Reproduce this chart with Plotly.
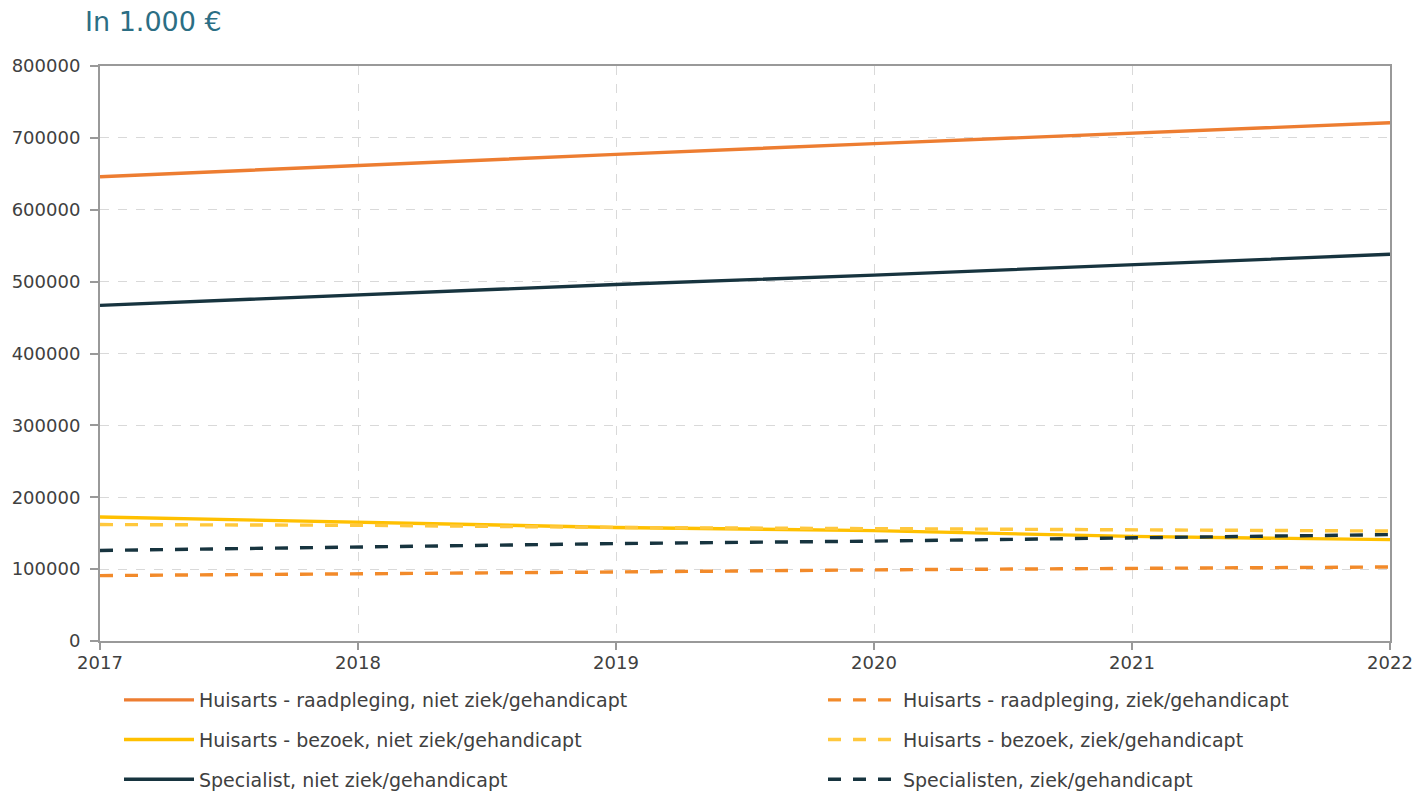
import plotly.graph_objects as go

years = [2017, 2018, 2019, 2020, 2021, 2022]

huisarts_raad_niet = [646000, 662000, 677000, 692000, 706000, 721000]
huisarts_raad_ziek = [91000, 93000, 96000, 99000, 101000, 103000]
huisarts_bez_niet = [172500, 165000, 158000, 153500, 145500, 141000]
huisarts_bez_ziek = [162000, 161000, 158000, 156000, 154000, 153000]
spec_niet = [467000, 482000, 496000, 509000, 523000, 538000]
spec_ziek = [126000, 131000, 135500, 139000, 143500, 148000]

names = [
    "Huisarts - raadpleging, niet ziek/gehandicapt",
    "Huisarts - raadpleging, ziek/gehandicapt",
    "Huisarts - bezoek, niet ziek/gehandicapt",
    "Huisarts - bezoek, ziek/gehandicapt",
    "Specialist, niet ziek/gehandicapt",
    "Specialisten, ziek/gehandicapt",
]

ORANGE = "#ED7D31"
ORANGE_D = "#F28A2A"
YELLOW = "#FFC000"
YELLOW_D = "#FFC83D"
DARK = "#17343F"

series = [
    (names[0], huisarts_raad_niet, ORANGE, "solid", "legend"),
    (names[2], huisarts_bez_niet, YELLOW, "solid", "legend"),
    (names[4], spec_niet, DARK, "solid", "legend"),
    (names[1], huisarts_raad_ziek, ORANGE_D, "13px,12px", "legend2"),
    (names[3], huisarts_bez_ziek, YELLOW_D, "13px,12px", "legend2"),
    (names[5], spec_ziek, DARK, "13px,12px", "legend2"),
]

fig = go.Figure()
for i, (nm, vals, col, dash, lg) in enumerate(series):
    fig.add_trace(go.Scatter(
        x=years, y=vals, name=nm, mode="lines",
        line=dict(color=col, width=3.4, dash=dash),
        legend=lg, legendgroup=f"g{i}", hoverinfo="skip",
    ))

FONT = "DejaVu Sans"
TXT = "#404040"
FS = 19
TFS = 18
legend_common = dict(
    orientation="v", yanchor="top", xanchor="left",
    font=dict(family=FONT, size=FS, color=TXT),
    itemwidth=70, tracegroupgap=12, bgcolor="rgba(0,0,0,0)",
    itemclick=False, itemdoubleclick=False,
)

fig.update_layout(
    width=1420, height=792,
    margin=dict(l=100, r=30, t=66, b=151, autoexpand=False),
    paper_bgcolor="white", plot_bgcolor="white",
    font=dict(family=FONT, size=FS, color=TXT),
    title=dict(text="In 1.000 €", xref="container", yref="container",
               x=85 / 1420, xanchor="left", y=1 - 22 / 792, yanchor="middle",
               font=dict(family=FONT, size=27, color="#2B6E84")),
    legend=dict(x=(119 - 100) / 1290, y=(641 - 681) / 575, **legend_common),
    legend2=dict(x=(823 - 100) / 1290, y=(641 - 681) / 575, **legend_common),
    xaxis=dict(
        range=[2017, 2022], tickmode="array", tickvals=years,
        ticktext=[str(y) for y in years],
        showline=True, linecolor="#999999", linewidth=2, mirror=True,
        ticks="outside", ticklen=7, tickcolor="#999999", tickwidth=2,
        showgrid=True, gridcolor="#D9D9D9", griddash="dash", gridwidth=1,
        zeroline=False, tickfont=dict(family=FONT, size=TFS, color=TXT),
        ticklabelstandoff=-3,
    ),
    yaxis=dict(
        range=[0, 800000], dtick=100000, tickformat="d",
        showline=True, linecolor="#999999", linewidth=2, mirror=True,
        ticks="outside", ticklen=8, tickcolor="#999999", tickwidth=2,
        showgrid=True, gridcolor="#D9D9D9", griddash="dash", gridwidth=1,
        zeroline=False, tickfont=dict(family=FONT, size=TFS, color=TXT),
        ticklabelstandoff=6,
    ),
)

fig.write_html("out.html")
